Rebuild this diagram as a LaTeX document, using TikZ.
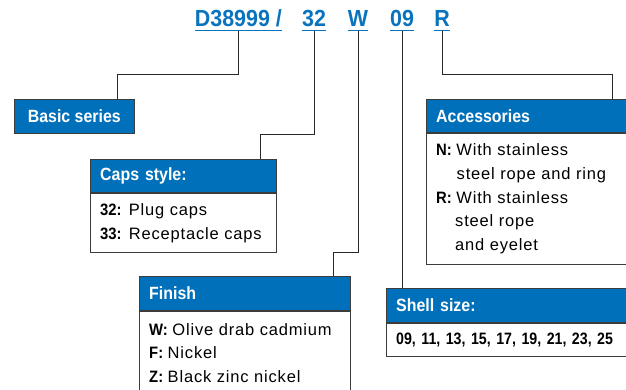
\documentclass[tikz,border=0pt]{standalone}
\usepackage{fontspec}
\setmainfont{Liberation Sans}[LetterSpace=5,BoldFeatures={FakeStretch=0.9,LetterSpace=0}]
\newfontfamily\titlefont{Liberation Sans}[BoldFeatures={FakeStretch=0.92}]
\newfontfamily\numfont{Liberation Sans}[BoldFeatures={FakeStretch=0.86}]
\definecolor{bluec}{RGB}{0,112,186}
\definecolor{titlec}{RGB}{10,115,190}
\definecolor{bordc}{RGB}{60,60,60}
\definecolor{leadc}{RGB}{40,40,40}
\tikzset{
  ttl/.style={anchor=base, inner sep=0pt, text=titlec, font=\titlefont\bfseries\fontsize{23.3}{28}\selectfont},
  uline/.style={draw=titlec, line width=1.3pt},
  lead/.style={draw=leadc, line width=1pt},
  hdr/.style={draw=bordc, line width=1pt, fill=bluec, text=white, anchor=north west,
    inner xsep=10pt, inner ysep=0pt, align=left, font=\bfseries\fontsize{17.7}{21}\selectfont},
  bodyb/.style={draw=bordc, line width=1pt, fill=white, text=black, anchor=north west,
    inner xsep=10pt, inner ysep=0pt, align=left, font=\fontsize{16.5}{23.7}\selectfont}
}
\begin{document}
\begin{tikzpicture}[x=1pt,y=-1pt]
\useasboundingbox (0,0) rectangle (626,390);
\clip (0,0) rectangle (626,390);
% title parts
\node[ttl] (t1) at (238.4,26.7) {D38999 /};
\node[ttl] (t2) at (314,26.7) {32};
\node[ttl] (t3) at (358,26.7) {W};
\node[ttl] (t4) at (402,26.7) {09};
\node[ttl] (t5) at (442,26.7) {R};
\foreach \n in {t1,t2,t3,t4,t5}{
  \draw[uline] ([yshift=-4pt]\n.base west) -- ([yshift=-4pt]\n.base east);
  \coordinate (u\n) at ([yshift=-4pt]\n.base);
}
% boxes
\node[hdr, align=center, minimum width=119.6pt, minimum height=34.6pt] (basic) at (14,98.7) {Basic series};

\node[hdr, text width=166pt, minimum height=33pt] (caps) at (89.7,159) {Caps style:};
\node[bodyb, text width=166pt, minimum height=59pt] (capsb) at (caps.south west)
  {{\bfseries 32:}\kern-1pt{} Plug caps\\{\bfseries 33:}\kern-1pt{} Receptacle caps};

\node[hdr, text width=191.3pt, minimum height=34pt] (fin) at (138.7,276) {Finish};
\node[bodyb, text width=191.3pt, minimum height=83pt] (finb) at (fin.south west)
  {{\bfseries W:}\kern-1pt{} Olive drab cadmium\\{\bfseries F:}\kern-1pt{} Nickel\\{\bfseries Z:}\kern-1pt{} Black zinc nickel};

\node[hdr, text width=200pt, minimum height=33.3pt] (acc) at (425.7,99) {Accessories};
\node[bodyb, text width=200pt, minimum height=130.4pt] (accb) at (acc.south west)
  {{\bfseries N:}\kern-1pt{} With stainless\\\hspace*{20.5pt}steel rope and ring\\{\bfseries R:}\kern-1pt{} With stainless\\\hspace*{19pt}steel rope\\\hspace*{19pt}and eyelet};

\node[hdr, text width=240pt, minimum height=34pt] (shell) at (385.7,287.7) {Shell size:};
\node[bodyb, text width=240pt, minimum height=33.3pt] (shellb) at (shell.south west)
  {\numfont\bfseries 09, 11, 13, 15, 17, 19, 21, 23, 25};
% leaders
\coordinate (k1) at (117,75);
\coordinate (k2) at (260,134.3);
\coordinate (k3) at (333,252);
\coordinate (k5) at (612.7,75);
\draw[lead] (ut1) |- (k1) -- (k1 |- basic.north);
\draw[lead] (ut2) |- (k2) -- (k2 |- caps.north);
\draw[lead] (ut3) |- (k3) -- (k3 |- fin.north);
\draw[lead] (ut4) -- (ut4 |- shell.north);
\draw[lead] (ut5) |- (k5) -- (k5 |- acc.north);
\end{tikzpicture}
\end{document}
